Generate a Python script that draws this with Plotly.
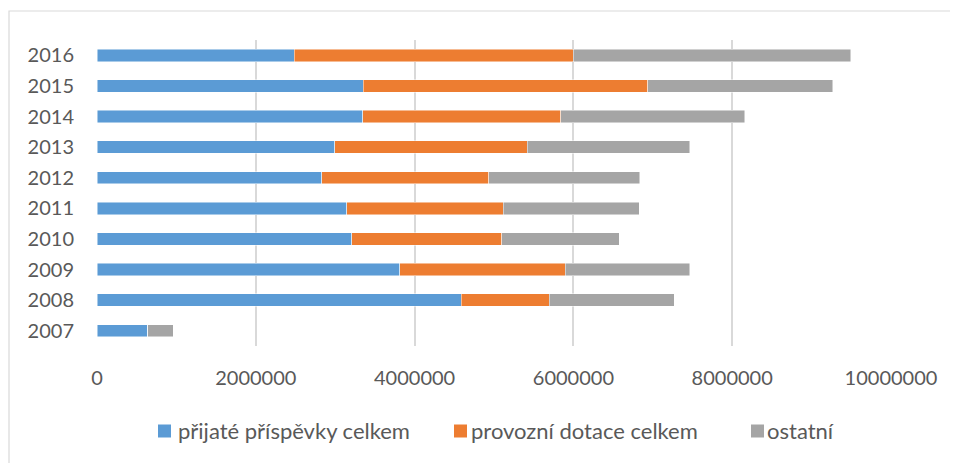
import plotly.graph_objects as go

years = ["2007", "2008", "2009", "2010", "2011", "2012", "2013", "2014", "2015", "2016"]
prispevky = [639000, 4588000, 3815000, 3210000, 3147000, 2828000, 2992000, 3345000, 3353000, 2487000]
dotace = [0, 1105000, 2084000, 1887000, 1971000, 2105000, 2428000, 2496000, 3584000, 3513000]
ostatni = [323000, 1580000, 1568000, 1483000, 1710000, 1903000, 2047000, 2319000, 2332000, 3496000]
x_ticks = [0, 2000000, 4000000, 6000000, 8000000, 10000000]

series_names = ["přijaté příspěvky celkem", "provozní dotace celkem", "ostatní"]
colors = ["#5B9BD5", "#ED7D31", "#A5A5A5"]

# page body has an 8px margin; plot area in screen px: x 97..891, y 40..346
PX0, PX1, PY0, PY1 = 97, 891, 40, 346
def px(x):
    return (x - PX0) / (PX1 - PX0)
def py(y):
    return (PY1 - y) / (PY1 - PY0)

fig = go.Figure()
for name, vals, col in zip(series_names, [prispevky, dotace, ostatni], colors):
    fig.add_trace(go.Bar(
        y=years, x=vals, name=name, orientation="h",
        marker=dict(color=col, line=dict(width=0.8, color="rgba(255,255,255,0.6)")),
        showlegend=False,
    ))

FONT = "Lato, 'Open Sans', sans-serif"
TXT = "#595959"
fig.update_layout(
    barmode="stack",
    bargap=0.595,
    width=950, height=455,
    margin=dict(l=89, r=67, t=32, b=117),
    paper_bgcolor="white", plot_bgcolor="white",
    font=dict(family=FONT, size=20, color=TXT),
    xaxis=dict(
        range=[0, 10000000], tickvals=x_ticks, ticktext=[str(v) for v in x_ticks],
        showgrid=True, gridcolor="#D9D9D9", gridwidth=1.5,
        zeroline=False, showline=False, ticks="",
        ticklabelstandoff=18, tickfont=dict(size=20, color=TXT),
    ),
    yaxis=dict(
        categoryorder="array", categoryarray=years,
        showgrid=False, zeroline=False, showline=False, ticks="",
        ticklabelstandoff=22, tickfont=dict(size=20, color=TXT),
    ),
    showlegend=False,
)

# Manual legend (square swatches + labels) matching the original layout
legend_sq_x = [158, 454, 751]
legend_txt_x = [176, 469, 765]
LEG_Y = 431
SQ = 13
for name, col, sx, tx in zip(series_names, colors, legend_sq_x, legend_txt_x):
    fig.add_shape(type="rect", xref="paper", yref="paper",
                  x0=px(sx), x1=px(sx + SQ), y0=py(LEG_Y + SQ / 2), y1=py(LEG_Y - SQ / 2),
                  fillcolor=col, line=dict(width=0))
    fig.add_annotation(xref="paper", yref="paper", x=px(tx), y=py(LEG_Y),
                       xanchor="left", yanchor="middle", text=name, showarrow=False,
                       font=dict(size=22, color=TXT, family=FONT))

# Outer chart border (extends past the right and bottom of the view)
fig.add_shape(type="rect", xref="paper", yref="paper",
              x0=px(9), x1=px(1100), y0=py(600), y1=py(11),
              line=dict(color="#D9D9D9", width=1.2), fillcolor="rgba(0,0,0,0)", layer="below")

fig.write_html("out.html")
